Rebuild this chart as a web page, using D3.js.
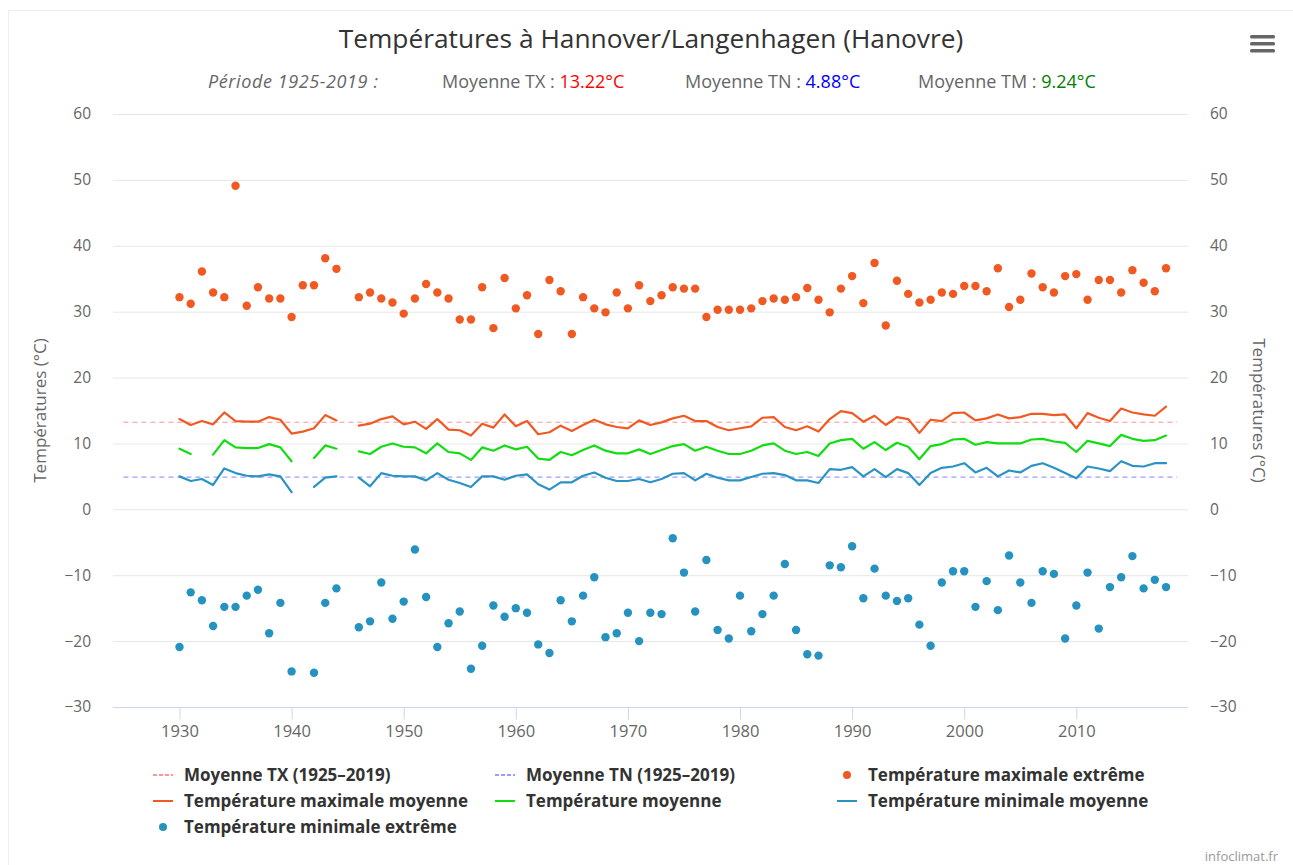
<!DOCTYPE html>
<html>
<head>
<meta charset="utf-8">
<script src="https://cdn.jsdelivr.net/npm/d3@7"></script>
<style>
  body { margin: 0; background: #fff; }
  svg { display: block; font-family: "Open Sans", "DejaVu Sans", sans-serif; }
</style>
</head>
<body>
<div id="chart"></div>
<script>
// Données (1930-2018), null = année manquante
const firstYear = 1930;
const periodStart = 1925, periodEnd = 2019;
const meanTX = 13.22, meanTN = 4.88, meanTM = 9.24;

const txExtreme = [
  32.2, 31.2, 36.1, 32.9, 32.2, 49.1, 30.9, 33.7, 32.0, 32.0,
  29.2, 34.0, 34.0, 38.1, 36.5, null, 32.2, 32.9, 32.0, 31.4,
  29.7, 32.0, 34.2, 32.9, 32.0, 28.8, 28.8, 33.7, 27.5, 35.1,
  30.5, 32.5, 26.6, 34.8, 33.1, 26.6, 32.2, 30.5, 29.9, 32.9,
  30.5, 34.0, 31.6, 32.5, 33.7, 33.5, 33.5, 29.2, 30.3, 30.3,
  30.3, 30.5, 31.6, 32.0, 31.8, 32.2, 33.6, 31.8, 29.9, 33.5,
  35.4, 31.3, 37.4, 27.9, 34.7, 32.7, 31.4, 31.8, 32.9, 32.7,
  33.9, 33.9, 33.1, 36.6, 30.7, 31.8, 35.8, 33.7, 32.9, 35.4,
  35.7, 31.8, 34.8, 34.8, 32.9, 36.3, 34.4, 33.1, 36.6
];

const txMean = [
  13.7, 12.8, 13.4, 12.9, 14.7, 13.4, 13.3, 13.3, 14.0, 13.6,
  11.5, 11.8, 12.3, 14.3, 13.5, null, 12.7, 13.0, 13.7, 14.1,
  12.9, 13.3, 12.2, 13.7, 12.1, 12.0, 11.2, 13.0, 12.4, 14.4,
  12.6, 13.4, 11.4, 11.7, 12.7, 11.9, 12.8, 13.6, 12.9, 12.5,
  12.3, 13.5, 12.8, 13.2, 13.8, 14.2, 13.4, 13.4, 12.5, 12.0,
  12.3, 12.6, 13.9, 14.0, 12.5, 12.0, 12.6, 11.8, 13.7, 14.9,
  14.6, 13.3, 14.2, 12.8, 14.0, 13.7, 11.6, 13.6, 13.4, 14.6,
  14.7, 13.5, 13.8, 14.4, 13.8, 14.0, 14.5, 14.5, 14.3, 14.4,
  12.3, 14.6, 13.9, 13.4, 15.3, 14.7, 14.4, 14.2, 15.6
];

const tmMean = [
  9.2, 8.4, null, 8.3, 10.5, 9.4, 9.3, 9.3, 9.9, 9.4,
  7.3, null, 7.8, 9.7, 9.2, null, 8.8, 8.4, 9.5, 10.0,
  9.5, 9.4, 8.5, 10.0, 8.7, 8.5, 7.5, 9.4, 8.9, 9.7,
  9.1, 9.5, 7.7, 7.5, 8.7, 8.2, 9.0, 9.7, 8.9, 8.5,
  8.5, 9.1, 8.4, 9.0, 9.6, 9.9, 8.9, 9.5, 8.9, 8.4,
  8.4, 8.9, 9.7, 10.0, 8.9, 8.4, 8.7, 8.1, 10.0, 10.5,
  10.7, 9.2, 10.2, 9.0, 10.1, 9.5, 7.6, 9.6, 9.9, 10.6,
  10.7, 9.8, 10.2, 10.0, 10.0, 10.0, 10.6, 10.7, 10.3, 10.1,
  8.7, 10.4, 10.0, 9.6, 11.3, 10.7, 10.4, 10.5, 11.2
];

const tnMean = [
  5.0, 4.3, 4.6, 3.7, 6.2, 5.5, 5.1, 5.0, 5.3, 5.0,
  2.6, null, 3.4, 4.8, 5.0, null, 4.8, 3.5, 5.5, 5.1,
  5.0, 5.0, 4.4, 5.5, 4.5, 4.0, 3.4, 5.0, 5.0, 4.5,
  5.1, 5.3, 3.8, 3.0, 4.1, 4.1, 5.1, 5.6, 4.8, 4.3,
  4.3, 4.6, 4.1, 4.6, 5.4, 5.5, 4.4, 5.4, 4.8, 4.4,
  4.4, 4.9, 5.4, 5.5, 5.2, 4.4, 4.4, 4.0, 6.1, 6.0,
  6.4, 5.0, 6.1, 4.9, 6.1, 5.5, 3.7, 5.5, 6.3, 6.5,
  7.0, 5.6, 6.3, 5.0, 5.9, 5.6, 6.6, 7.0, 6.3, 5.5,
  4.7, 6.5, 6.2, 5.8, 7.3, 6.6, 6.5, 7.0, 7.0
];

const tnExtreme = [
  -20.9, -12.6, -13.8, -17.7, -14.8, -14.8, -13.1, -12.2, -18.8, -14.2,
  -24.6, null, -24.8, -14.2, -12.0, null, -17.9, -17.0, -11.1, -16.6,
  -14.0, -6.1, -13.3, -20.9, -17.3, -15.5, -24.2, -20.7, -14.6, -16.3,
  -15.0, -15.7, -20.5, -21.8, -13.8, -17.0, -13.1, -10.3, -19.4, -18.8,
  -15.7, -20.0, -15.7, -15.9, -4.4, -9.6, -15.5, -7.7, -18.3, -19.6,
  -13.1, -18.5, -15.9, -13.1, -8.3, -18.3, -22.0, -22.2, -8.5, -8.8,
  -5.6, -13.5, -9.0, -13.1, -13.9, -13.5, -17.5, -20.7, -11.1, -9.4,
  -9.4, -14.8, -10.9, -15.3, -7.0, -11.1, -14.2, -9.4, -9.8, -19.6,
  -14.6, -9.6, -18.1, -11.8, -10.3, -7.1, -12.0, -10.7, -11.8
];

const yTicks = [-30, -20, -10, 0, 10, 20, 30, 40, 50, 60];
const xTicks = [1930, 1940, 1950, 1960, 1970, 1980, 1990, 2000, 2010];

const colors = {
  txExt: "#f05a22",
  txMean: "#f05a22",
  tm: "#11dd11",
  tn: "#2a93c4",
  tnExt: "#2592c0",
  refTX: "#ff9494",
  refTN: "#9c9cff"
};

const width = 1293, height = 865;
const plot = { left: 113, right: 1188, top: 114, bottom: 707 };

const svg = d3.select("#chart").append("svg")
    .attr("width", width)
    .attr("height", height);

// cadre léger du conteneur
svg.append("rect")
    .attr("x", 8.5).attr("y", 10.5)
    .attr("width", width).attr("height", height)
    .attr("fill", "none")
    .attr("stroke", "#e9eef7");

const x = d3.scaleLinear().domain([1924.07, 2019.96]).range([plot.left, plot.right]);
const y = d3.scaleLinear().domain([-30, 60]).range([plot.bottom, plot.top]);

const toPoints = arr => arr.map((v, i) => ({ year: firstYear + i, value: v }));

// Titre
svg.append("text")
    .attr("x", 651).attr("y", 48)
    .attr("text-anchor", "middle")
    .style("font-size", "26.3px")
    .style("fill", "#333")
    .text("Températures à Hannover/Langenhagen (Hanovre)");

// Sous-titre
const sub = svg.append("g").style("font-size", "18px").style("fill", "#666");
sub.append("text").attr("x", 208).attr("y", 88)
    .style("font-style", "italic")
    .style("letter-spacing", "0.6px")
    .text(`Période ${periodStart}-${periodEnd} :`);
[
  { x: 442, label: "Moyenne TX : ", value: meanTX, color: "#ff0000" },
  { x: 685, label: "Moyenne TN : ", value: meanTN, color: "#0000ff" },
  { x: 918, label: "Moyenne TM : ", value: meanTM, color: "#008000" }
].forEach(d => {
  const t = sub.append("text").attr("x", d.x).attr("y", 88);
  t.append("tspan").text(d.label);
  t.append("tspan").style("fill", d.color).text(d.value.toFixed(2) + "°C");
});

// Menu
[0, 7, 14].forEach(dy => {
  svg.append("rect")
      .attr("x", 1250).attr("y", 35 + dy)
      .attr("width", 25).attr("height", 3.5)
      .attr("rx", 1.5)
      .attr("fill", "#666");
});

// Grille horizontale
svg.append("g")
    .selectAll("line")
    .data(yTicks.filter(t => t !== -30))
    .enter()
    .append("line")
    .attr("x1", plot.left).attr("x2", plot.right)
    .attr("y1", d => y(d) + 0.5).attr("y2", d => y(d) + 0.5)
    .attr("stroke", "#e6e6e6");

// Axe Y gauche et droit
const yAxisLeft = svg.append("g")
    .attr("transform", `translate(${plot.left - 22},0)`)
    .call(d3.axisLeft(y).tickValues(yTicks).tickSize(0).tickPadding(0));
const yAxisRight = svg.append("g")
    .attr("transform", `translate(${plot.right + 22},0)`)
    .call(d3.axisRight(y).tickValues(yTicks).tickSize(0).tickPadding(0));
[yAxisLeft, yAxisRight].forEach(g => {
  g.select(".domain").remove();
  g.selectAll("text")
      .style("font-size", "15.5px")
      .style("fill", "#666")
      .style("font-family", "'Open Sans', sans-serif");
});

// Axe X
const xAxis = svg.append("g")
    .attr("transform", `translate(0,${plot.bottom + 0.5})`)
    .call(d3.axisBottom(x).tickValues(xTicks).tickFormat(d3.format("d")).tickSize(12).tickPadding(6));
xAxis.select(".domain").attr("stroke", "#ccd6eb").attr("d", `M${plot.left},0H${plot.right}`);
xAxis.selectAll(".tick line").attr("stroke", "#ccd6eb");
xAxis.selectAll("text")
    .style("font-size", "16.5px")
    .style("fill", "#666")
    .style("font-family", "'Open Sans', sans-serif");

// Titres des axes
svg.append("text")
    .attr("transform", `translate(46,${(plot.top + plot.bottom) / 2}) rotate(-90)`)
    .attr("text-anchor", "middle")
    .style("font-size", "17px")
    .style("fill", "#666")
    .text("Températures (°C)");
svg.append("text")
    .attr("transform", `translate(1253,${(plot.top + plot.bottom) / 2}) rotate(90)`)
    .attr("text-anchor", "middle")
    .style("font-size", "17px")
    .style("fill", "#666")
    .text("Températures (°C)");

// Moyennes de référence (pointillés)
[
  { value: meanTX, color: colors.refTX },
  { value: meanTN, color: colors.refTN }
].forEach(d => {
  svg.append("line")
      .attr("x1", x(periodStart)).attr("x2", x(periodEnd))
      .attr("y1", y(d.value)).attr("y2", y(d.value))
      .attr("stroke", d.color)
      .attr("stroke-width", 1.2)
      .attr("stroke-dasharray", "5,4");
});

// Courbes
const line = d3.line()
    .defined(d => d.value !== null)
    .x(d => x(d.year))
    .y(d => y(d.value));

[
  { data: txMean, color: colors.txMean },
  { data: tmMean, color: colors.tm },
  { data: tnMean, color: colors.tn }
].forEach(s => {
  svg.append("path")
      .datum(toPoints(s.data))
      .attr("d", line)
      .attr("fill", "none")
      .attr("stroke", s.color)
      .attr("stroke-width", 2.2)
      .attr("stroke-linejoin", "round")
      .attr("stroke-linecap", "round");
});

// Points extrêmes
[
  { data: txExtreme, color: colors.txExt },
  { data: tnExtreme, color: colors.tnExt }
].forEach(s => {
  svg.append("g")
      .selectAll("circle")
      .data(toPoints(s.data).filter(d => d.value !== null))
      .enter()
      .append("circle")
      .attr("cx", d => x(d.year))
      .attr("cy", d => y(d.value))
      .attr("r", 4.2)
      .attr("fill", s.color);
});

// Légende
const legendItems = [
  { label: `Moyenne TX (${periodStart}–${periodEnd})`, type: "dash", color: colors.refTX },
  { label: `Moyenne TN (${periodStart}–${periodEnd})`, type: "dash", color: colors.refTN },
  { label: "Température maximale extrême", type: "dot", color: colors.txExt },
  { label: "Température maximale moyenne", type: "line", color: colors.txMean },
  { label: "Température moyenne", type: "line", color: colors.tm },
  { label: "Température minimale moyenne", type: "line", color: colors.tn },
  { label: "Température minimale extrême", type: "dot", color: colors.tnExt }
];

const legend = svg.append("g");
const item = legend.selectAll("g")
    .data(legendItems)
    .enter()
    .append("g")
    .attr("transform", (d, i) => `translate(${153 + (i % 3) * 342},${775 + Math.floor(i / 3) * 26})`);

item.each(function(d) {
  const g = d3.select(this);
  if (d.type === "dot") {
    g.append("circle").attr("cx", 10).attr("cy", 0).attr("r", 4).attr("fill", d.color);
  } else {
    g.append("line")
        .attr("x1", 0).attr("x2", 20).attr("y1", 0).attr("y2", 0)
        .attr("stroke", d.color)
        .attr("stroke-width", 2)
        .attr("stroke-dasharray", d.type === "dash" ? "4,2" : null);
  }
});

item.append("text")
    .attr("x", 31)
    .attr("dy", "0.35em")
    .style("font-size", "17px")
    .style("font-weight", "bold")
    .style("fill", "#333")
    .text(d => d.label);

// Crédits
svg.append("text")
    .attr("x", 1278).attr("y", 861)
    .attr("text-anchor", "end")
    .style("font-size", "13px")
    .style("fill", "#999")
    .text("infoclimat.fr");
</script>
</body>
</html>
